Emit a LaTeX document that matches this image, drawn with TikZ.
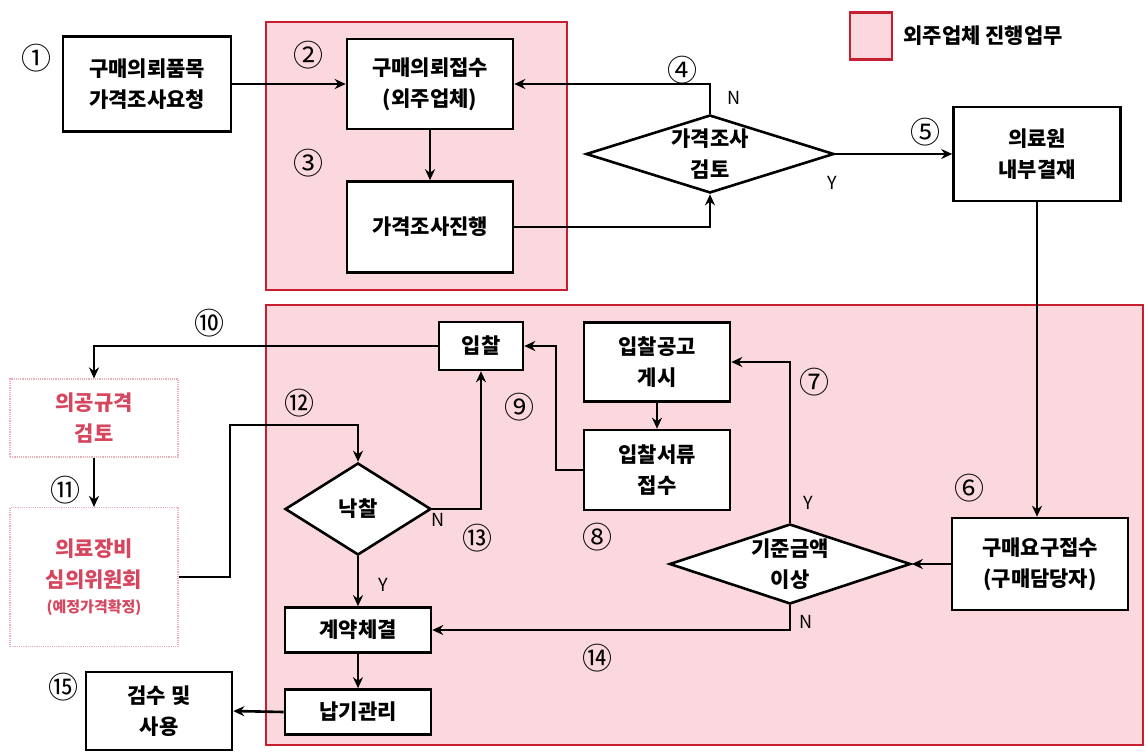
\documentclass[tikz,border=0pt]{standalone}
\usepackage{fontspec}
\setmainfont{Noto Sans CJK KR}
\usetikzlibrary{shapes.geometric,arrows.meta}
\definecolor{regfill}{RGB}{250,216,221}
\definecolor{regline}{RGB}{200,30,50}
\definecolor{redtxt}{RGB}{215,70,95}
\definecolor{dotline}{RGB}{236,176,186}
\begin{document}
\begin{tikzpicture}[x=1pt,y=-1pt,
  box/.style={draw=black,line width=2.6pt,fill=white,align=center,inner sep=0pt,
    font=\fontsize{21}{31}\selectfont\bfseries},
  dia/.style={draw=black,line width=2.6pt,fill=white,diamond,inner sep=0pt},
  diatext/.style={align=center,font=\fontsize{21}{31}\selectfont\bfseries},
  redbox/.style={draw=dotline,densely dotted,line width=1.2pt,fill=white,align=center,
    inner sep=0pt,text=redtxt,font=\fontsize{21}{31}\selectfont\bfseries},
  arr/.style={line width=2.6pt,-{Stealth[length=11pt,width=10pt]}},
  num/.style={font=\fontsize{30}{30}\selectfont},
  yn/.style={font=\fontsize{18}{18}\selectfont},
  region/.style={draw=regline,line width=2.4pt,fill=regfill}]
\useasboundingbox[fill=white] (0,0) rectangle (1145,752);
% regions
\path[region] (266,22) rectangle (567,290);
\path[region] (266,305) rectangle (1143,745);
% legend
\node[region,minimum width=42pt,minimum height=47pt,inner sep=0pt] (leg) at (871,36) {};
\node[anchor=west,font=\fontsize{21}{21}\selectfont\bfseries] (legt) at (900,36) {외주업체 진행업무};
% top row
\node[box,minimum width=168pt,minimum height=95pt] (b1) at (147,84) {구매의뢰품목\\가격조사요청};
\node[box,minimum width=166pt,minimum height=90pt] (b2) at (430,84) {구매의뢰접수\\(외주업체)};
\node[box,minimum width=166pt,minimum height=91pt] (b3) at (430,227) {가격조사진행};
\node[dia,minimum width=248pt,minimum height=78pt] (d4) at (710,154) {};
\node[diatext] (d4t) at (710,154) {가격조사\\검토};
\node[box,minimum width=167pt,minimum height=94pt] (b5) at (1037,154) {의료원\\내부결재};
% lower region
\node[box,minimum width=176pt,minimum height=92pt] (b6) at (1040,564) {구매요구접수\\(구매담당자)};
\node[dia,minimum width=241pt,minimum height=80pt] (d7) at (790,564) {};
\node[diatext] (d7t) at (790,564) {기준금액\\이상};
\node[box,minimum width=146pt,minimum height=79pt] (gk) at (657,362) {입찰공고\\게시};
\node[box,minimum width=146pt,minimum height=80pt] (sr) at (657,470) {입찰서류\\접수};
\node[box,minimum width=84pt,minimum height=48pt] (ip) at (481,346) {입찰};
\node[dia,minimum width=146pt,minimum height=92pt] (dn) at (358,509) {};
\node[diatext] (dnt) at (358,509) {낙찰};
\node[box,minimum width=146pt,minimum height=45pt] (gy) at (358,630) {계약체결};
\node[box,minimum width=146pt,minimum height=45pt] (ng) at (358,712) {납기관리};
% left column
\node[redbox,minimum width=168pt,minimum height=78pt] (ug) at (94,418) {의공규격\\검토};
\node[redbox,minimum width=168pt,minimum height=139pt] (mc) at (94,577)
  {의료장비\\심의위원회\\[-6pt]{\fontsize{15}{18}\selectfont (예정가격확정)}};
\node[box,minimum width=146pt,minimum height=78pt] (gs) at (159,711) {검수 및\\사용};
% connectors
\draw[arr] (b1.east) -- (b2.west);
\draw[arr] (b2.south) -- (b3.north);
\draw[arr] (b3.east) -| (d4.south);
\draw[arr] (d4.north) |- (b2.east);
\draw[arr] (d4.east) -- (b5.west);
\draw[arr] (b5.south) -- (b5.south |- b6.north);
\draw[arr] (b6.west) -- (d7.east);
\draw[arr] (d7.north) |- (gk.east);
\draw[arr] (gk.south) -- (sr.north);
\coordinate (c9) at (556,470);
\draw[arr] (sr.west) -- (c9) |- (ip.east);
\draw[arr] (ip.west) -| (ug.north);
\draw[arr] (ug.south) -- (mc.north);
\coordinate (c12) at (230,425);
\draw[arr] (mc.east) -| (c12) -| (dn.north);
\draw[arr] (dn.east) -| (ip.south);
\draw[arr] (dn.south) -- (gy.north);
\draw[arr] (d7.south) |- (gy.east);
\draw[arr] (gy.south) -- (ng.north);
\draw[arr] (ng.west) -- (gs.east);
% labels
\node[num] (n1) at (36,58) {①};
\node[num] (n2) at (308,55) {②};
\node[num] (n3) at (308,163) {③};
\node[num] (n4) at (682,70) {④};
\node[num] (n5) at (925,132) {⑤};
\node[num] (n6) at (969,488) {⑥};
\node[num] (n7) at (814,382) {⑦};
\node[num] (n8) at (597,537) {⑧};
\node[num] (n9) at (519,407) {⑨};
\node[num] (n10) at (209,323) {⑩};
\node[num] (n11) at (65,490) {⑪};
\node[num] (n12) at (299,403) {⑫};
\node[num] (n13) at (477,538) {⑬};
\node[num] (n14) at (597,658) {⑭};
\node[num] (n15) at (63,687) {⑮};
\node[yn] (yn4n) at (734,98) {N};
\node[yn] (yn4y) at (832,183) {Y};
\node[yn] (yn7y) at (808,503) {Y};
\node[yn] (yn7n) at (806,622) {N};
\node[yn] (ynn) at (438,520) {N};
\node[yn] (yny) at (383,585) {Y};
\end{tikzpicture}
\end{document}
